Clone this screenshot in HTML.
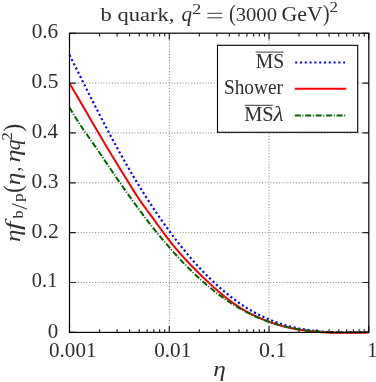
<!DOCTYPE html>
<html><head><meta charset="utf-8"><title>b quark</title>
<style>html,body{margin:0;padding:0;background:#fff;overflow:hidden;}svg{display:block;}</style>
</head><body>
<svg width="376" height="382" viewBox="0 0 376 382">
<rect width="376" height="382" fill="#fff"/>
<g stroke="#808080" stroke-width="1" stroke-dasharray="1 1.83" fill="none">
<path d="M69.5,282.53 H368.8"/>
<path d="M69.5,232.67 H368.8"/>
<path d="M69.5,182.80 H368.8"/>
<path d="M69.5,132.93 H368.8"/>
<path d="M69.5,83.07 H368.8"/>
<path d="M169.45,332.4 V33.2"/>
<path d="M269.05,332.4 V33.2"/>
</g>
<g stroke="#1c1c1c" stroke-width="1.15" fill="none">
<path d="M69.5,332.40 h6.3 M368.8,332.40 h-6.3"/>
<path d="M69.5,282.53 h6.3 M368.8,282.53 h-6.3"/>
<path d="M69.5,232.67 h6.3 M368.8,232.67 h-6.3"/>
<path d="M69.5,182.80 h6.3 M368.8,182.80 h-6.3"/>
<path d="M69.5,132.93 h6.3 M368.8,132.93 h-6.3"/>
<path d="M69.5,83.07 h6.3 M368.8,83.07 h-6.3"/>
<path d="M69.5,33.20 h6.3 M368.8,33.20 h-6.3"/>
<path d="M69.50,332.4 v-6.3 M69.50,33.2 v6.3"/>
<path d="M99.53,332.4 v-3.2 M99.53,33.2 v3.2"/>
<path d="M117.10,332.4 v-3.2 M117.10,33.2 v3.2"/>
<path d="M129.57,332.4 v-3.2 M129.57,33.2 v3.2"/>
<path d="M139.23,332.4 v-3.2 M139.23,33.2 v3.2"/>
<path d="M147.13,332.4 v-3.2 M147.13,33.2 v3.2"/>
<path d="M153.81,332.4 v-3.2 M153.81,33.2 v3.2"/>
<path d="M159.60,332.4 v-3.2 M159.60,33.2 v3.2"/>
<path d="M164.70,332.4 v-3.2 M164.70,33.2 v3.2"/>
<path d="M169.27,332.4 v-6.3 M169.27,33.2 v6.3"/>
<path d="M199.30,332.4 v-3.2 M199.30,33.2 v3.2"/>
<path d="M216.87,332.4 v-3.2 M216.87,33.2 v3.2"/>
<path d="M229.33,332.4 v-3.2 M229.33,33.2 v3.2"/>
<path d="M239.00,332.4 v-3.2 M239.00,33.2 v3.2"/>
<path d="M246.90,332.4 v-3.2 M246.90,33.2 v3.2"/>
<path d="M253.58,332.4 v-3.2 M253.58,33.2 v3.2"/>
<path d="M259.36,332.4 v-3.2 M259.36,33.2 v3.2"/>
<path d="M264.47,332.4 v-3.2 M264.47,33.2 v3.2"/>
<path d="M269.03,332.4 v-6.3 M269.03,33.2 v6.3"/>
<path d="M299.07,332.4 v-3.2 M299.07,33.2 v3.2"/>
<path d="M316.63,332.4 v-3.2 M316.63,33.2 v3.2"/>
<path d="M329.10,332.4 v-3.2 M329.10,33.2 v3.2"/>
<path d="M338.77,332.4 v-3.2 M338.77,33.2 v3.2"/>
<path d="M346.67,332.4 v-3.2 M346.67,33.2 v3.2"/>
<path d="M353.35,332.4 v-3.2 M353.35,33.2 v3.2"/>
<path d="M359.13,332.4 v-3.2 M359.13,33.2 v3.2"/>
<path d="M364.23,332.4 v-3.2 M364.23,33.2 v3.2"/>
<path d="M368.80,332.4 v-6.3 M368.80,33.2 v6.3"/>
</g>
<clipPath id="c"><rect x="68.0" y="33.2" width="301.80" height="301.20"/></clipPath>
<g fill="none" stroke-width="2" clip-path="url(#c)">
<path d="M69.50,54.91 L71.99,59.90 L74.49,64.91 L76.98,69.91 L79.48,74.90 L81.97,79.90 L84.47,84.88 L86.96,89.85 L89.45,94.80 L91.95,99.74 L94.44,104.65 L96.94,109.54 L99.43,114.40 L101.92,119.23 L104.42,124.03 L106.91,128.79 L109.41,133.51 L111.90,138.19 L114.39,142.82 L116.89,147.40 L119.38,151.93 L121.88,156.41 L124.37,160.84 L126.87,165.21 L129.36,169.52 L131.85,173.79 L134.35,177.99 L136.84,182.15 L139.34,186.24 L141.83,190.28 L144.32,194.27 L146.82,198.20 L149.31,202.07 L151.81,205.89 L154.30,209.65 L156.80,213.35 L159.29,217.00 L161.78,220.58 L164.28,224.11 L166.77,227.59 L169.27,231.00 L171.76,234.36 L174.25,237.66 L176.75,240.91 L179.24,244.09 L181.74,247.22 L184.23,250.29 L186.73,253.30 L189.22,256.25 L191.71,259.15 L194.21,261.98 L196.70,264.76 L199.20,267.48 L201.69,270.14 L204.19,272.74 L206.68,275.28 L209.17,277.76 L211.67,280.18 L214.16,282.55 L216.66,284.85 L219.15,287.10 L221.64,289.28 L224.14,291.41 L226.63,293.47 L229.13,295.48 L231.62,297.43 L234.12,299.31 L236.61,301.14 L239.10,302.91 L241.60,304.62 L244.09,306.27 L246.59,307.86 L249.08,309.39 L251.57,310.86 L254.07,312.27 L256.56,313.62 L259.06,314.91 L261.55,316.14 L264.04,317.32 L266.54,318.43 L269.03,319.50 L271.53,320.51 L274.02,321.47 L276.52,322.37 L279.01,323.23 L281.50,324.04 L284.00,324.80 L286.49,325.52 L288.99,326.19 L291.48,326.82 L293.98,327.41 L296.47,327.96 L298.96,328.46 L301.46,328.93 L303.95,329.37 L306.45,329.77 L308.94,330.13 L311.43,330.46 L313.93,330.76 L316.42,331.04 L318.92,331.28 L321.41,331.49 L323.90,331.68 L326.40,331.85 L328.89,331.99 L331.39,332.11 L333.88,332.20 L336.38,332.28 L338.87,332.34 L341.36,332.39 L343.86,332.41 L346.35,332.43 L348.85,332.43 L351.34,332.42 L353.83,332.40 L356.33,332.37 L358.82,332.33 L361.32,332.28 L363.81,332.24 L366.31,332.18 L368.80,332.13" stroke="#0000ff" stroke-width="2.15" stroke-dasharray="2.1 2.62"/>
<path d="M69.50,83.50 L71.99,87.54 L74.49,91.67 L76.98,95.88 L79.48,100.14 L81.97,104.45 L84.47,108.77 L86.96,113.11 L89.45,117.44 L91.95,121.76 L94.44,126.07 L96.94,130.35 L99.43,134.62 L101.92,138.85 L104.42,143.05 L106.91,147.21 L109.41,151.35 L111.90,155.46 L114.39,159.54 L116.89,163.61 L119.38,167.67 L121.88,171.72 L124.37,175.76 L126.87,179.81 L129.36,183.85 L131.85,187.89 L134.35,191.88 L136.84,195.77 L139.34,199.53 L141.83,203.13 L144.32,206.59 L146.82,209.97 L149.31,213.32 L151.81,216.70 L154.30,220.12 L156.80,223.57 L159.29,227.03 L161.78,230.46 L164.28,233.85 L166.77,237.18 L169.27,240.42 L171.76,243.57 L174.25,246.63 L176.75,249.61 L179.24,252.50 L181.74,255.33 L184.23,258.08 L186.73,260.77 L189.22,263.41 L191.71,266.00 L194.21,268.54 L196.70,271.05 L199.20,273.52 L201.69,275.96 L204.19,278.37 L206.68,280.74 L209.17,283.08 L211.67,285.38 L214.16,287.64 L216.66,289.85 L219.15,292.00 L221.64,294.11 L224.14,296.16 L226.63,298.14 L229.13,300.07 L231.62,301.92 L234.12,303.71 L236.61,305.42 L239.10,307.06 L241.60,308.63 L244.09,310.12 L246.59,311.55 L249.08,312.91 L251.57,314.21 L254.07,315.45 L256.56,316.64 L259.06,317.77 L261.55,318.85 L264.04,319.88 L266.54,320.86 L269.03,321.79 L271.53,322.67 L274.02,323.51 L276.52,324.30 L279.01,325.05 L281.50,325.75 L284.00,326.42 L286.49,327.04 L288.99,327.63 L291.48,328.17 L293.98,328.68 L296.47,329.15 L298.96,329.59 L301.46,330.00 L303.95,330.37 L306.45,330.71 L308.94,331.03 L311.43,331.31 L313.93,331.56 L316.42,331.79 L318.92,332.00 L321.41,332.18 L323.90,332.33 L326.40,332.47 L328.89,332.58 L331.39,332.68 L333.88,332.75 L336.38,332.75 L338.87,332.75 L341.36,332.75 L343.86,332.75 L346.35,332.75 L348.85,332.75 L351.34,332.75 L353.83,332.75 L356.33,332.75 L358.82,332.75 L361.32,332.72 L363.81,332.67 L366.31,332.61 L368.80,332.56" stroke="#ff0000"/>
<path d="M69.50,107.45 L71.99,111.77 L74.49,115.91 L76.98,119.88 L79.48,123.72 L81.97,127.45 L84.47,131.10 L86.96,134.68 L89.45,138.22 L91.95,141.76 L94.44,145.31 L96.94,148.89 L99.43,152.54 L101.92,156.23 L104.42,159.95 L106.91,163.65 L109.41,167.34 L111.90,171.02 L114.39,174.68 L116.89,178.31 L119.38,181.93 L121.88,185.52 L124.37,189.09 L126.87,192.63 L129.36,196.15 L131.85,199.63 L134.35,203.08 L136.84,206.49 L139.34,209.87 L141.83,213.22 L144.32,216.52 L146.82,219.79 L149.31,223.02 L151.81,226.20 L154.30,229.35 L156.80,232.45 L159.29,235.51 L161.78,238.53 L164.28,241.51 L166.77,244.44 L169.27,247.33 L171.76,250.17 L174.25,252.97 L176.75,255.72 L179.24,258.42 L181.74,261.08 L184.23,263.69 L186.73,266.25 L189.22,268.76 L191.71,271.22 L194.21,273.63 L196.70,275.99 L199.20,278.30 L201.69,280.55 L204.19,282.76 L206.68,284.90 L209.17,287.00 L211.67,289.04 L214.16,291.03 L216.66,292.96 L219.15,294.85 L221.64,296.68 L224.14,298.45 L226.63,300.18 L229.13,301.86 L231.62,303.48 L234.12,305.05 L236.61,306.58 L239.10,308.05 L241.60,309.47 L244.09,310.85 L246.59,312.17 L249.08,313.44 L251.57,314.67 L254.07,315.85 L256.56,316.98 L259.06,318.06 L261.55,319.10 L264.04,320.08 L266.54,321.02 L269.03,321.92 L271.53,322.77 L274.02,323.57 L276.52,324.33 L279.01,325.05 L281.50,325.72 L284.00,326.36 L286.49,326.95 L288.99,327.51 L291.48,328.03 L293.98,328.51 L296.47,328.96 L298.96,329.38 L301.46,329.76 L303.95,330.11 L306.45,330.43 L308.94,330.72 L311.43,330.99 L313.93,331.22 L316.42,331.43 L318.92,331.62 L321.41,331.78 L323.90,331.92 L326.40,332.04 L328.89,332.14 L331.39,332.22 L333.88,332.29 L336.38,332.33 L338.87,332.36 L341.36,332.38 L343.86,332.38 L346.35,332.37 L348.85,332.35 L351.34,332.32 L353.83,332.28 L356.33,332.24 L358.82,332.18 L361.32,332.13 L363.81,332.06 L366.31,332.00 L368.80,331.93" stroke="#006400" stroke-dasharray="6 1.6 1 1.85"/>
</g>
<rect x="69.5" y="33.2" width="299.30" height="299.20" fill="none" stroke="#000" stroke-width="1.2"/>
<rect x="217.5" y="45.3" width="140.20" height="87.00" fill="#fff" stroke="#000" stroke-width="1.1"/>
<g fill="none" stroke-width="2">
<path d="M295.2,62.6 H345" stroke="#0000ff" stroke-dasharray="2 2.8"/>
<path d="M294.8,88.8 H346.2" stroke="#ff0000"/>
<path d="M294.8,115.4 H345.6" stroke="#006400" stroke-dasharray="6 1.6 1 1.85"/>
</g>
<g font-family="'Liberation Serif', serif" fill="#2e2e2e" style="filter:grayscale(1)">
<text x="100.50" y="20.50" font-size="19.7" textLength="73.79" lengthAdjust="spacingAndGlyphs">b quark,</text>
<text x="181.46" y="20.50" font-size="20" font-style="italic" textLength="10.57" lengthAdjust="spacingAndGlyphs">q</text>
<text x="192.29" y="14.10" font-size="14.2" textLength="9.00" lengthAdjust="spacingAndGlyphs">2</text>
<text x="229.08" y="20.60" font-size="22.2" textLength="6.79" lengthAdjust="spacingAndGlyphs">(</text>
<text x="235.67" y="20.60" font-size="19.8" textLength="41.36" lengthAdjust="spacingAndGlyphs">3000</text>
<text x="281.53" y="20.50" font-size="20.4" textLength="41.16" lengthAdjust="spacingAndGlyphs">GeV</text>
<text x="322.91" y="20.60" font-size="22.2" textLength="6.53" lengthAdjust="spacingAndGlyphs">)</text>
<text x="329.63" y="11.80" font-size="14.4" textLength="8.50" lengthAdjust="spacingAndGlyphs">2</text>
<text x="47.76" y="337.60" font-size="20.2" textLength="10.48" lengthAdjust="spacingAndGlyphs">0</text>
<text x="31.88" y="287.43" font-size="20.2" textLength="25.54" lengthAdjust="spacingAndGlyphs">0.1</text>
<text x="31.63" y="237.57" font-size="20.2" textLength="27.16" lengthAdjust="spacingAndGlyphs">0.2</text>
<text x="31.64" y="187.70" font-size="20.2" textLength="26.82" lengthAdjust="spacingAndGlyphs">0.3</text>
<text x="31.66" y="137.83" font-size="20.2" textLength="26.26" lengthAdjust="spacingAndGlyphs">0.4</text>
<text x="31.64" y="87.97" font-size="20.2" textLength="26.82" lengthAdjust="spacingAndGlyphs">0.5</text>
<text x="31.65" y="38.10" font-size="20.2" textLength="26.59" lengthAdjust="spacingAndGlyphs">0.6</text>
<text x="49.06" y="356.80" font-size="19.9" textLength="47.41" lengthAdjust="spacingAndGlyphs">0.001</text>
<text x="154.25" y="356.80" font-size="19.9" textLength="37.02" lengthAdjust="spacingAndGlyphs">0.01</text>
<text x="259.02" y="356.80" font-size="19.9" textLength="27.50" lengthAdjust="spacingAndGlyphs">0.1</text>
<text x="367.27" y="356.80" font-size="19.9" textLength="10.14" lengthAdjust="spacingAndGlyphs">1</text>
<text x="213.22" y="376.10" font-size="20.7" font-style="italic" textLength="12.52" lengthAdjust="spacingAndGlyphs">η</text>
<text x="255.81" y="67.90" font-size="20.0" textLength="28.48" lengthAdjust="spacingAndGlyphs">MS</text>
<text x="223.95" y="94.00" font-size="20.3" textLength="58.95" lengthAdjust="spacingAndGlyphs">Shower</text>
<text x="244.19" y="121.30" font-size="20.2" textLength="29.55" lengthAdjust="spacingAndGlyphs">MS</text>
<text x="273.49" y="121.30" font-size="20.5" font-style="italic" textLength="10.16" lengthAdjust="spacingAndGlyphs">λ</text>
<g transform="translate(19.6,241.6) rotate(-90)">
<text x="-0.47" y="0.00" font-size="20.7" font-style="italic" textLength="12.40" lengthAdjust="spacingAndGlyphs">η</text>
<text x="11.60" y="0.00" font-size="21.5" font-style="italic" textLength="8.34" lengthAdjust="spacingAndGlyphs">f</text>
<text x="23.00" y="3.80" font-size="14.8" textLength="8.15" lengthAdjust="spacingAndGlyphs">b</text>
<text x="32.10" y="7.50" font-size="23" textLength="6.37" lengthAdjust="spacingAndGlyphs">/</text>
<text x="39.54" y="3.80" font-size="15" textLength="8.76" lengthAdjust="spacingAndGlyphs">p</text>
<text x="48.89" y="1.00" font-size="25.6" textLength="7.44" lengthAdjust="spacingAndGlyphs">(</text>
<text x="56.41" y="0.00" font-size="20.7" font-style="italic" textLength="12.64" lengthAdjust="spacingAndGlyphs">η</text>
<text x="70.03" y="0.00" font-size="20" textLength="4.83" lengthAdjust="spacingAndGlyphs">,</text>
<text x="79.08" y="0.00" font-size="20.7" font-style="italic" textLength="12.99" lengthAdjust="spacingAndGlyphs">η</text>
<text x="91.35" y="0.00" font-size="20.7" font-style="italic" textLength="10.68" lengthAdjust="spacingAndGlyphs">q</text>
<text x="101.16" y="-7.90" font-size="14.6" textLength="8.25" lengthAdjust="spacingAndGlyphs">2</text>
<text x="110.11" y="1.00" font-size="25.6" textLength="7.69" lengthAdjust="spacingAndGlyphs">)</text>
</g>
</g>
<g stroke="#2e2e2e" stroke-width="0.95" fill="none">
<path d="M207.4,13.3 H222.3 M207.4,17.8 H222.3"/>
<path d="M255.6,52.1 H283.5"/>
<path d="M244.7,105.3 H272.8"/>
</g>
</svg>
</body></html>
